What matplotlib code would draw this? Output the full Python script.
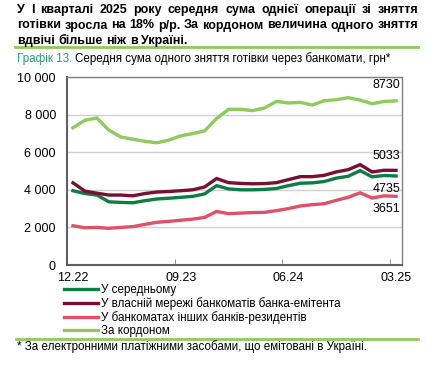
import matplotlib
matplotlib.use("Agg")
import matplotlib.pyplot as plt
import numpy as np

plt.rcParams['font.family'] = ['Liberation Sans', 'DejaVu Sans']

# monthly data, 12.22 .. 03.25
months = ['12.22', '01.23', '02.23', '03.23', '04.23', '05.23', '06.23', '07.23', '08.23', '09.23',
          '10.23', '11.23', '12.23', '01.24', '02.24', '03.24', '04.24', '05.24', '06.24', '07.24',
          '08.24', '09.24', '10.24', '11.24', '12.24', '01.25', '02.25', '03.25']
average = [3950, 3800, 3720, 3360, 3330, 3310, 3420, 3510, 3550, 3600,
           3650, 3780, 4220, 4050, 4000, 4000, 4020, 4070, 4220, 4350,
           4370, 4440, 4620, 4720, 5020, 4690, 4760, 4735]
own_network = [4370, 3930, 3820, 3720, 3720, 3680, 3800, 3880, 3910, 3950,
               4000, 4150, 4600, 4380, 4340, 4320, 4330, 4380, 4540, 4700,
               4700, 4770, 4950, 5070, 5340, 4950, 5040, 5033]
other_banks = [2090, 1980, 2000, 1950, 2000, 2040, 2160, 2270, 2320, 2380,
               2440, 2530, 2850, 2730, 2760, 2790, 2800, 2890, 3000, 3140,
               3210, 3260, 3440, 3600, 3840, 3560, 3680, 3651]
abroad = [7300, 7700, 7820, 7170, 6810, 6690, 6580, 6500, 6640, 6870,
          6990, 7130, 7790, 8280, 8280, 8210, 8350, 8700, 8620, 8650,
          8510, 8740, 8790, 8900, 8770, 8580, 8700, 8730]

series = [
    ('У середньому', average, '#0b7d45'),
    ('У власній мережі банкоматів банка-емітента', own_network, '#7a0f30'),
    ('У банкоматах інших банків-резидентів', other_banks, '#e05068'),
    ('За кордоном', abroad, '#8fca5c'),
]

W, H = 427, 366
fig = plt.figure(figsize=(W / 100, H / 100), dpi=100)


def px(x, y):
    return x / W, 1 - y / H


# header, justified
header_lines = [
    'У І кварталі 2025 року середня сума однієї операції зі зняття',
    'готівки зросла на 18% р/р. За кордоном величина одного зняття',
    'вдвічі більше ніж в Україні.',
]
renderer = fig.canvas.get_renderer()
x0, x1 = 17, 418
for k, line in enumerate(header_lines):
    y = 10 + 15.5 * k
    words = line.split(' ')
    texts = [fig.text(*px(x0, y), w, fontsize=9.0, fontweight='bold', va='center') for w in words]
    widths = [t.get_window_extent(renderer).width for t in texts]
    if k < len(header_lines) - 1:
        gap = (x1 - x0 - sum(widths)) / (len(words) - 1)
    else:
        gap = 3.6
    xx = x0
    for t, w in zip(texts, widths):
        t.set_position(px(xx, y))
        xx += w + gap

fig.add_artist(plt.Line2D([15 / W, 418 / W], [1 - 47 / H] * 2, color='#8fca5c', lw=2))
fig.add_artist(plt.Line2D([16 / W, 418 / W], [1 - 339 / H] * 2, color='#8fca5c', lw=2))

t1 = fig.text(*px(17, 59), 'Графік 13. ', fontsize=8.4, color='#1fa37a', va='center')
ext = t1.get_window_extent(renderer)
fig.text(*px(17 + ext.width, 59), 'Середня сума одного зняття готівки через банкомати, грн*',
         fontsize=8.4, color='black', va='center')

fig.text(*px(17, 347), '* За електронними платіжними засобами, що емітовані в Україні.',
         fontsize=8.4, va='center')

ax = fig.add_axes([67 / W, 1 - 265 / H, (402 - 67) / W, (265 - 77) / H])
x = np.arange(len(months))
handles = []
for name, vals, col in series:
    h, = ax.plot(x, vals, color=col, lw=2.4, solid_joinstyle='miter')
    handles.append(h)

ax.set_xlim(-0.5, 27.5)
ax.set_ylim(0, 10000)
ax.set_yticks(range(0, 10001, 2000))
ax.set_yticklabels(['0', '2 000', '4 000', '6 000', '8 000', '10 000'], fontsize=9)
ax.yaxis.grid(True, color='#d0d0d0', lw=1)
ax.set_axisbelow(True)
ax.tick_params(axis='y', length=0, pad=8)

lab_idx = [0, 9, 18, 27]
ax.set_xticks(lab_idx)
ax.set_xticklabels([months[i] for i in lab_idx], fontsize=9)
ax.tick_params(axis='x', length=0, pad=5)
ax.set_xticks([8.5, 17.5, 26.5], minor=True)
ax.tick_params(axis='x', which='minor', direction='in', length=4, color='#808080')

for s in ax.spines.values():
    s.set_color('#808080')
    s.set_linewidth(1)
ax.spines['left'].set_color('#606060')
ax.spines['left'].set_linewidth(1.5)
ax.spines['bottom'].set_color('#606060')
ax.spines['bottom'].set_linewidth(1.5)

# end-value labels
last = len(months) - 1
ax.annotate(f'{abroad[-1]}', (last, abroad[-1]), xytext=(3, 7), textcoords='offset points',
            ha='right', va='bottom', fontsize=9)
ax.annotate(f'{own_network[-1]}', (last, own_network[-1]), xytext=(3, 6), textcoords='offset points',
            ha='right', va='bottom', fontsize=9)
ax.annotate(f'{average[-1]}', (last, average[-1]), xytext=(3, -5), textcoords='offset points',
            ha='right', va='top', fontsize=9)
ax.annotate(f'{other_banks[-1]}', (last, other_banks[-1]), xytext=(3, -5), textcoords='offset points',
            ha='right', va='top', fontsize=9)

fig.legend(handles, [s[0] for s in series], loc='upper left', bbox_to_anchor=px(64, 284),
           frameon=False, fontsize=8.4, handlelength=2.9, handletextpad=0.3,
           labelspacing=0.1, borderpad=0, borderaxespad=0)

fig.savefig('out.png', dpi=100)
